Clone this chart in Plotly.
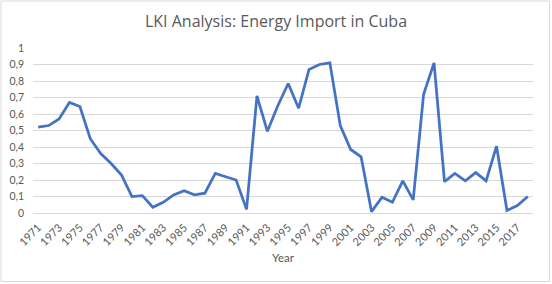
import plotly.graph_objects as go

years = [str(y) for y in range(1971, 2019)]
values = [0.52, 0.53, 0.57, 0.67, 0.645, 0.45, 0.36, 0.30, 0.23, 0.10,
          0.105, 0.035, 0.065, 0.11, 0.135, 0.11, 0.12, 0.24, 0.22, 0.20,
          0.022, 0.71, 0.495, 0.65, 0.785, 0.635, 0.87, 0.90, 0.91, 0.53,
          0.385, 0.34, 0.008, 0.095, 0.065, 0.195, 0.08, 0.72, 0.91, 0.19,
          0.24, 0.195, 0.245, 0.195, 0.405, 0.015, 0.045, 0.10]
tick_years = [str(y) for y in range(1971, 2019, 2)]
y_ticks = [0, 0.1, 0.2, 0.3, 0.4, 0.5, 0.6, 0.7, 0.8, 0.9, 1]

FONT = "Lato"
GRAY = "#595959"

fig = go.Figure()
fig.add_trace(go.Scatter(
    x=years, y=values, mode="lines",
    line=dict(color="#4472C4", width=2.75),
    hoverinfo="skip",
))

L, R, T, B = 33, 19, 48, 71
W, H = 552, 284
pw, ph = W - L - R, H - T - B

fig.update_layout(
    width=W, height=H,
    margin=dict(l=L, r=R, t=T, b=B),
    paper_bgcolor="white", plot_bgcolor="white",
    separators=", ",
    showlegend=False,
    font=dict(family=FONT, color=GRAY, size=10),
    title=dict(text="LKI Analysis: Energy Import in Cuba",
               x=276 / W, xanchor="center",
               y=1 - 21 / H, yanchor="middle",
               font=dict(family="Open Sans", size=16, color=GRAY)),
    xaxis=dict(
        type="category", range=[-0.5, 47.5], automargin=False,
        tickmode="array", tickvals=tick_years, ticktext=tick_years,
        tickangle=-45, showgrid=False,
        showline=True, linecolor="#D9D9D9", linewidth=1,
        ticks="", tickfont=dict(size=11, color=GRAY), ticklabelstandoff=3,
        title=dict(text="Year", font=dict(size=11.5, color=GRAY), standoff=6),
    ),
    yaxis=dict(
        range=[0, 1], tickmode="array", tickvals=y_ticks, automargin=False,
        showgrid=True, gridcolor="#D9D9D9", gridwidth=1,
        zeroline=False, showline=False, ticks="",
        tickfont=dict(size=10.5, color=GRAY), ticklabelstandoff=8,
    ),
    shapes=[dict(
        type="rect", xref="paper", yref="paper",
        x0=(1 - L) / pw, x1=(549.5 - L) / pw,
        y0=(H - B - 281.5) / ph, y1=(H - B - 1) / ph,
        line=dict(color="#D9D9D9", width=1), fillcolor="rgba(0,0,0,0)",
        layer="below",
    )],
)

fig.write_html("out.html", config={"displayModeBar": False},
               post_script="document.body.style.margin='0';document.body.style.padding='0';")
